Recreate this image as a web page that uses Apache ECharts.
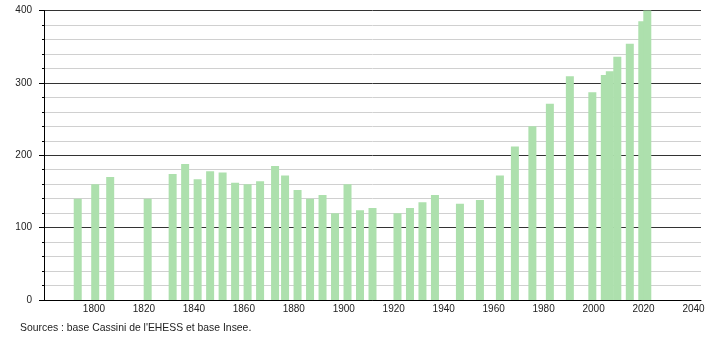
<!DOCTYPE html>
<html>
<head>
<meta charset="utf-8">
<script src="https://cdn.jsdelivr.net/npm/echarts@6/dist/echarts.min.js"></script>
<style>
html,body{margin:0;padding:0;background:#fff;}
#c{width:710px;height:340px;}
</style>
</head>
<body>
<div id="c"></div>
<script>
const years = [1793,1800,1806,1821,1831,1836,1841,1846,1851,1856,1861,1866,1872,1876,1881,1886,1891,1896,1901,1906,1911,1921,1926,1931,1936,1946,1954,1962,1968,1975,1982,1990,1999,2004,2006,2009,2014,2019,2021];
const population = [140,160,170,140,174,188,167,178,176,162,160,164,185,172,152,140,145,120,160,124,127,120,127,135,145,133,138,172,212,240,271,309,287,311,316,336,354,385,400];
const sourceText = "Sources : base Cassini de l'EHESS et base Insee.";

const chart = echarts.init(document.getElementById('c'), null, {renderer:'canvas'});
const FONT = '"Liberation Sans", Arial, sans-serif';
chart.setOption({
  animation:false,
  grid:{left:44, right:9, top:10.5, bottom:40, containLabel:false},
  xAxis:[{
    type:'value', min:1780, max:2043, interval:20,
    axisLine:{show:true, onZero:false, lineStyle:{color:'#000', width:1}},
    axisTick:{show:false},
    splitLine:{show:false},
    axisLabel:{
      color:'#222', fontSize:10, fontFamily:FONT, margin:4,
      showMinLabel:false, showMaxLabel:false,
      formatter:function(v){ return (v%20===0 && v>1780) ? String(v) : ''; }
    }
  },{
    type:'value', min:1779.5, max:2042.5, show:false,
    splitLine:{show:false}
  }],
  yAxis:{
    type:'value', min:0, max:400, interval:100,
    axisLine:{show:true, lineStyle:{color:'#000', width:1}},
    axisTick:{show:true, length:5, lineStyle:{color:'#000'}},
    minorTick:{show:true, splitNumber:5, length:2, lineStyle:{color:'#000'}},
    splitLine:{show:true, lineStyle:{color:'#333', width:1}},
    minorSplitLine:{show:true, lineStyle:{color:'#d0d0d0', width:1}},
    axisLabel:{color:'#222', fontSize:10, fontFamily:FONT, margin:12}
  },
  series:[{
    type:'bar',
    xAxisIndex:1,
    barWidth:8,
    data: years.map((y,i)=>[y, population[i]]),
    itemStyle:{color:'#ade0ad'},
    z:3
  }],
  graphic:[{
    type:'text', left:20, top:323,
    style:{text:sourceText, fill:'#222', font:'10.4px "Liberation Sans", Arial, sans-serif'}
  }]
});
</script>
</body>
</html>
